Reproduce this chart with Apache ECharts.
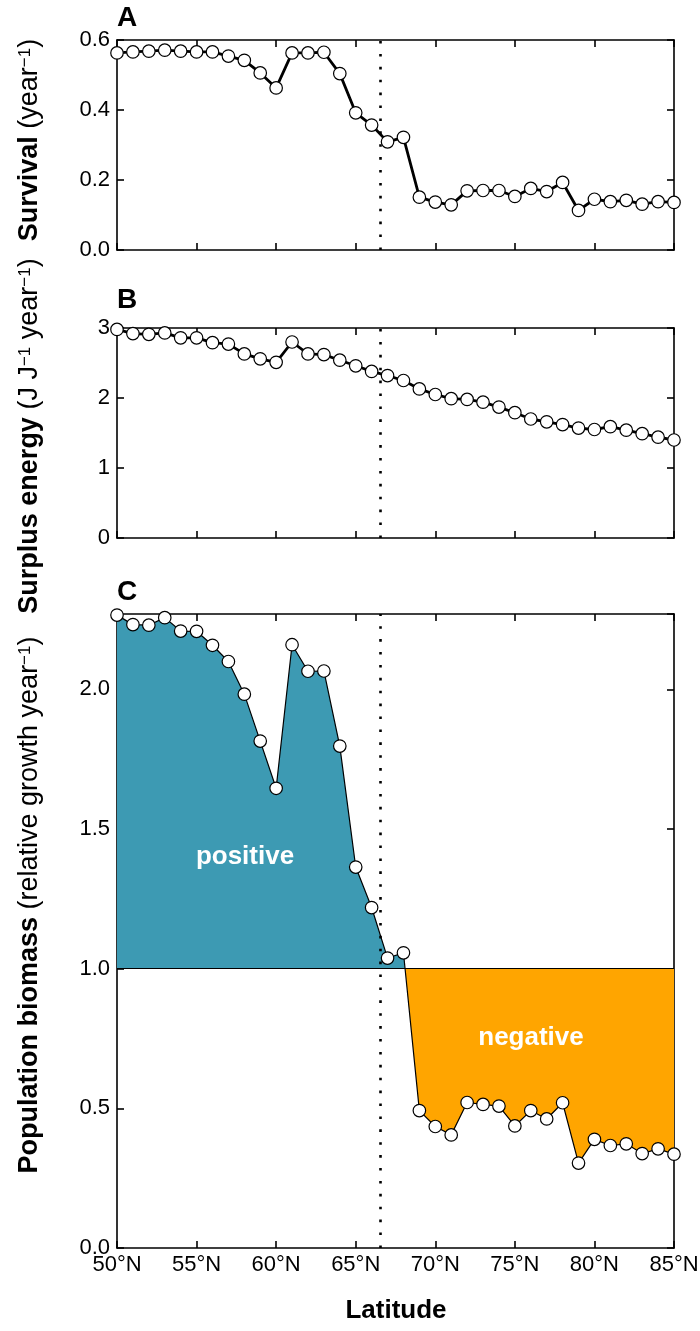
<!DOCTYPE html>
<html>
<head>
<meta charset="utf-8">
<script src="https://cdn.jsdelivr.net/npm/echarts@6/dist/echarts.min.js"></script>
<style>html,body{margin:0;padding:0;background:#fff}#chart{width:700px;height:1331px}</style>
</head>
<body>
<div id="chart"></div>
<script>
// ---------------- data ----------------
const latitudes = [50,51,52,53,54,55,56,57,58,59,60,61,62,63,64,65,66,67,68,69,70,71,72,73,74,75,76,77,78,79,80,81,82,83,84,85];
const survival = [0.563,0.566,0.568,0.571,0.568,0.566,0.566,0.554,0.542,0.506,0.463,0.563,0.563,0.565,0.504,0.392,0.357,0.309,0.322,0.151,0.137,0.129,0.169,0.170,0.170,0.153,0.176,0.167,0.193,0.113,0.145,0.138,0.142,0.131,0.138,0.136];
const surplusEnergy = [2.98,2.92,2.91,2.93,2.86,2.86,2.79,2.77,2.63,2.56,2.51,2.80,2.63,2.62,2.54,2.46,2.38,2.32,2.25,2.13,2.05,1.99,1.98,1.94,1.87,1.79,1.70,1.66,1.62,1.57,1.55,1.59,1.54,1.49,1.44,1.40];
const biomass = [2.266,2.232,2.230,2.257,2.209,2.208,2.158,2.100,1.983,1.815,1.646,2.160,2.065,2.066,1.797,1.364,1.219,1.038,1.057,0.492,0.435,0.405,0.521,0.514,0.508,0.437,0.492,0.462,0.520,0.304,0.389,0.367,0.373,0.338,0.355,0.336];
const latTickLabels = ['50°N','55°N','60°N','65°N','70°N','75°N','80°N','85°N'];
const survivalTickLabels = ['0.0','0.2','0.4','0.6'];
const energyTickLabels = ['0','1','2','3'];
const biomassTickLabels = ['0.0','0.5','1.0','1.5','2.0'];
const arcticCircle = 66.56;
const biomassBaseline = 1;

// ---------------- style ----------------
const FONT = "'Liberation Sans', Arial, Helvetica, sans-serif";
const TEAL = '#3d9ab3';
const ORANGE = '#ffa500';
const H = 1331;

const grids = [
  {left: 117, right: 26, top: 40, height: 210, outerBoundsMode: 'none', containLabel: false},
  {left: 117, right: 26, top: 328, height: 210, outerBoundsMode: 'none', containLabel: false},
  {left: 117, right: 26, top: 614, height: 634, outerBoundsMode: 'none', containLabel: false}
];

const lineAx = {show: true, onZero: false, lineStyle: {color: '#000', width: 1.6}};
const tickAx = {show: true, inside: true, length: 7, lineStyle: {color: '#000', width: 1.6}};

function onStep(v, step) {
  const k = v / step;
  return Math.abs(k - Math.round(k)) < 1e-6;
}

function xAxis(gi, pos, withLabels) {
  return {
    type: 'value', gridIndex: gi, position: pos, min: 50, max: 85, interval: 5,
    axisLine: lineAx, axisTick: tickAx, splitLine: {show: false},
    axisLabel: {
      show: withLabels, color: '#000', fontFamily: FONT, fontSize: 22, margin: 6,
      showMinLabel: true, showMaxLabel: true, hideOverlap: false,
      formatter: v => latTickLabels[Math.round((v - 50) / 5)] || ''
    }
  };
}
function yAxis(gi, pos, max, interval, labels) {
  return {
    type: 'value', gridIndex: gi, position: pos, min: 0, max: max, interval: interval,
    axisLine: lineAx, axisTick: tickAx, splitLine: {show: false},
    axisLabel: {
      show: !!labels, showMaxLabel: onStep(max, interval), showMinLabel: true, hideOverlap: false,
      color: '#000', fontFamily: FONT, fontSize: 22, margin: 7,
      formatter: v => (labels && onStep(v, interval)) ? (labels[Math.round(v / interval)] || '') : ''
    }
  };
}

const dotted = {color: '#000', type: [2.6, 10.3], width: 2.6, cap: 'butt'};
function arcticLine(extra) {
  return {
    silent: true, symbol: 'none', label: {show: false}, animation: false,
    lineStyle: dotted,
    emphasis: {disabled: true},
    data: [{xAxis: arcticCircle}].concat(extra || [])
  };
}
const pairs = arr => latitudes.map((x, i) => [x, arr[i]]);
const markerStyle = {color: '#fff', borderColor: '#000', borderWidth: 1.2};

const LABSIZE = 27;
const richLab = {
  b: {fontSize: LABSIZE, fontWeight: 'bold', fontFamily: FONT, fill: '#000'},
  n: {fontSize: LABSIZE, fontFamily: FONT, fill: '#000'},
  s: {fontSize: 17, fontFamily: FONT, verticalAlign: 'top', lineHeight: 17, fill: '#000'}
};
function yLabel(y, text) {
  return {
    type: 'text', x: 30, y: y, rotation: Math.PI / 2, silent: true, z: 50,
    style: {text: text, rich: richLab, fontSize: LABSIZE, fontFamily: FONT, fill: '#000', align: 'center', verticalAlign: 'middle'}
  };
}
function plainText(x, y, text, size, color, align) {
  return {
    type: 'text', x: x, y: y, silent: true, z: 50,
    style: {text: text, fontSize: size, fontWeight: 'bold', fontFamily: FONT, fill: color, align: align || 'center', verticalAlign: 'middle'}
  };
}

const option = {
  animation: false,
  backgroundColor: '#fff',
  grid: grids,
  xAxis: [
    xAxis(0, 'bottom', false), xAxis(0, 'top', false),
    xAxis(1, 'bottom', false), xAxis(1, 'top', false),
    xAxis(2, 'bottom', true), xAxis(2, 'top', false)
  ],
  yAxis: [
    yAxis(0, 'left', 0.6, 0.2, survivalTickLabels), yAxis(0, 'right', 0.6, 0.2, null),
    yAxis(1, 'left', 3, 1, energyTickLabels), yAxis(1, 'right', 3, 1, null),
    yAxis(2, 'left', 2.27, 0.5, biomassTickLabels), yAxis(2, 'right', 2.27, 0.5, null)
  ],
  series: [
    {
      type: 'line', xAxisIndex: 0, yAxisIndex: 0, data: pairs(survival),
      symbol: 'circle', symbolSize: 12.5, itemStyle: markerStyle,
      lineStyle: {color: '#000', width: 2.8}, emphasis: {disabled: true},
      markLine: arcticLine(), z: 3
    },
    {
      type: 'line', xAxisIndex: 2, yAxisIndex: 2, data: pairs(surplusEnergy),
      symbol: 'circle', symbolSize: 12.5, itemStyle: markerStyle,
      lineStyle: {color: '#000', width: 2.8}, emphasis: {disabled: true},
      markLine: arcticLine(), z: 3
    },
    {
      type: 'line', xAxisIndex: 4, yAxisIndex: 4, data: pairs(biomass),
      showSymbol: false, symbol: 'none', silent: true,
      lineStyle: {width: 0, opacity: 0},
      areaStyle: {origin: biomassBaseline, opacity: 1, color: TEAL},
      emphasis: {disabled: true}, z: 1
    },
    {
      type: 'line', xAxisIndex: 4, yAxisIndex: 4, data: pairs(biomass),
      symbol: 'circle', symbolSize: 12.5, itemStyle: markerStyle,
      lineStyle: {color: '#000', width: 1.2}, emphasis: {disabled: true},
      markLine: arcticLine([{yAxis: biomassBaseline, lineStyle: {type: 'solid', width: 1.2, color: '#000'}}]),
      z: 3
    }
  ],
  graphic: [
    plainText(117, 18, 'A', 28, '#000', 'left'),
    plainText(117, 300, 'B', 28, '#000', 'left'),
    plainText(117, 592, 'C', 28, '#000', 'left'),
    yLabel(140, '{b|Survival} {n|(year}{s|−1}{n|)}'),
    yLabel(436, '{b|Surplus energy} {n|(J J}{s|−1}{n| year}{s|−1}{n|)}'),
    yLabel(905, '{b|Population biomass} {n|(relative growth year}{s|−1}{n|)}'),
    plainText(396, 1311, 'Latitude', 26, '#000'),
    plainText(245, 857, 'positive', 26, '#fff'),
    plainText(531, 1038, 'negative', 26, '#fff')
  ]
};

const chart = echarts.init(document.getElementById('chart'), null, {renderer: 'canvas'});
chart.setOption(option);

// split the area fill colour at the baseline (teal above, orange below)
const yBase = chart.convertToPixel({yAxisIndex: 4}, biomassBaseline);
const f = yBase / H;
chart.setOption({
  series: [{}, {}, {
    areaStyle: {
      color: {
        type: 'linear', x: 0, y: 0, x2: 0, y2: H, global: true,
        colorStops: [
          {offset: 0, color: TEAL}, {offset: f, color: TEAL},
          {offset: f, color: ORANGE}, {offset: 1, color: ORANGE}
        ]
      }
    }
  }, {}]
});
</script>
</body>
</html>
